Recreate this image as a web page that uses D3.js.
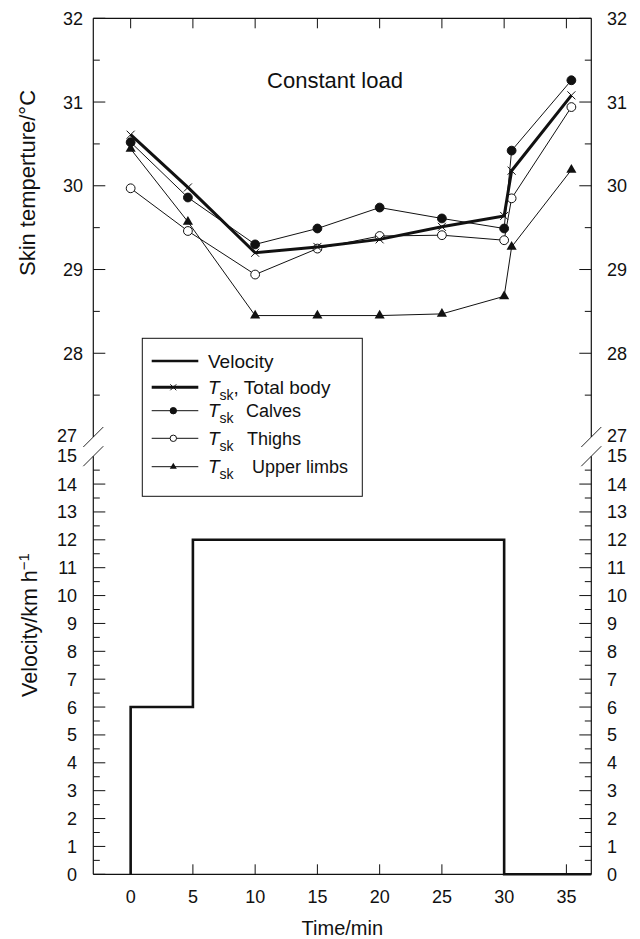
<!DOCTYPE html>
<html>
<head>
<meta charset="utf-8">
<script src="https://cdn.jsdelivr.net/npm/d3@7"></script>
<style>
  body { margin: 0; background: #fff; }
  svg text { font-family: "Liberation Sans", Arial, sans-serif; fill: #111; }
</style>
</head>
<body>
<div id="chart"></div>
<script>
// sampling times (min) of skin temperature
var times = [0, 4.6, 10, 15, 20, 25, 30, 30.6, 35.4];
var totalBody = [30.61, 29.98, 29.20, 29.27, 29.36, 29.51, 29.64, 30.18, 31.08];
var calves = [30.52, 29.86, 29.30, 29.49, 29.74, 29.61, 29.49, 30.42, 31.26];
var thighs = [29.97, 29.46, 28.94, 29.25, 29.40, 29.41, 29.35, 29.85, 30.94];
var upperLimbs = [30.44, 29.57, 28.45, 28.45, 28.45, 28.47, 28.68, 29.27, 30.19];

// treadmill velocity (step profile)
var velTimes = [0, 0, 5, 5, 30, 30, 37];
var velValues = [0, 6, 6, 12, 12, 0, 0];

var xTicks = [0, 5, 10, 15, 20, 25, 30, 35];
var tempTicks = [28, 29, 30, 31, 32];
var tempMinor = [27.5, 28.5, 29.5, 30.5, 31.5];
var velTicks = [0, 1, 2, 3, 4, 5, 6, 7, 8, 9, 10, 11, 12, 13, 14];
var velMinor = [0.5, 1.5, 2.5, 3.5, 4.5, 5.5, 6.5, 7.5, 8.5, 9.5, 10.5, 11.5, 12.5, 13.5, 14.5];

document.addEventListener('DOMContentLoaded', function () {
    draw();

    function draw() {
        var W = 640, H = 939;
        var left = 93.3, right = 591.3, top = 18.3, bottom = 874.3;
        var breakTop = 437, breakBottom = 456.2;
        var ink = "#111";

        var svg = d3.select("#chart").append("svg")
            .attr("width", W)
            .attr("height", H);

        var x = d3.scaleLinear().domain([-3, 37]).range([left, right]);
        var yT = d3.scaleLinear().domain([27, 32]).range([breakTop, top]);
        var yV = d3.scaleLinear().domain([0, 15]).range([bottom, breakBottom]);

        // frame: top and bottom borders
        svg.append("line").attr("x1", left).attr("x2", right).attr("y1", top).attr("y2", top)
            .attr("stroke", ink).attr("stroke-width", 1.2);
        svg.append("line").attr("x1", left).attr("x2", right).attr("y1", bottom).attr("y2", bottom)
            .attr("stroke", ink).attr("stroke-width", 1.2);

        // side axes with break
        [left, right].forEach(function (ax) {
            svg.append("line").attr("x1", ax).attr("x2", ax).attr("y1", top).attr("y2", yT(27))
                .attr("stroke", ink).attr("stroke-width", 1.2);
            svg.append("line").attr("x1", ax).attr("x2", ax).attr("y1", yV(15)).attr("y2", bottom)
                .attr("stroke", ink).attr("stroke-width", 1.2);
            [yT(27), yV(15)].forEach(function (cy) {
                svg.append("line")
                    .attr("x1", ax - 10).attr("y1", cy + 10)
                    .attr("x2", ax + 10).attr("y2", cy - 10)
                    .attr("stroke", ink).attr("stroke-width", 0.9);
            });
        });

        // x ticks on top and bottom, pointing inward
        xTicks.forEach(function (t) {
            svg.append("line").attr("x1", x(t)).attr("x2", x(t)).attr("y1", top).attr("y2", top + 10)
                .attr("stroke", ink).attr("stroke-width", 1);
            svg.append("line").attr("x1", x(t)).attr("x2", x(t)).attr("y1", bottom).attr("y2", bottom - 10)
                .attr("stroke", ink).attr("stroke-width", 1);
            svg.append("text").attr("x", x(t)).attr("y", 903)
                .attr("text-anchor", "middle").style("font-size", "18px").text(t);
        });

        function yTicks(scale, major, minor, lx, rx) {
            major.forEach(function (v) {
                var yy = scale(v);
                svg.append("line").attr("x1", left).attr("x2", left + 12).attr("y1", yy).attr("y2", yy)
                    .attr("stroke", ink).attr("stroke-width", 1);
                svg.append("line").attr("x1", right).attr("x2", right - 12).attr("y1", yy).attr("y2", yy)
                    .attr("stroke", ink).attr("stroke-width", 1);
                svg.append("text").attr("x", lx).attr("y", yy + 6.5)
                    .attr("text-anchor", "end").style("font-size", "18px").text(v);
                svg.append("text").attr("x", rx).attr("y", yy + 6.5)
                    .attr("text-anchor", "start").style("font-size", "18px").text(v);
            });
            minor.forEach(function (v) {
                var yy = scale(v);
                svg.append("line").attr("x1", left).attr("x2", left + 6.5).attr("y1", yy).attr("y2", yy)
                    .attr("stroke", ink).attr("stroke-width", 1);
                svg.append("line").attr("x1", right).attr("x2", right - 6.5).attr("y1", yy).attr("y2", yy)
                    .attr("stroke", ink).attr("stroke-width", 1);
            });
        }
        yTicks(yT, tempTicks, tempMinor, 83, 607);
        yTicks(yV, velTicks, velMinor, 77, 607);

        // break labels
        svg.append("text").attr("x", 77).attr("y", yT(27) + 5).attr("text-anchor", "end")
            .style("font-size", "18px").text("27");
        svg.append("text").attr("x", 77).attr("y", yV(15) + 6).attr("text-anchor", "end")
            .style("font-size", "18px").text("15");
        svg.append("text").attr("x", 607).attr("y", yT(27) + 5).attr("text-anchor", "start")
            .style("font-size", "18px").text("27");
        svg.append("text").attr("x", 607).attr("y", yV(15) + 6).attr("text-anchor", "start")
            .style("font-size", "18px").text("15");

        // axis titles
        svg.append("text").attr("transform", "translate(35,183) rotate(-90)")
            .attr("text-anchor", "middle").style("font-size", "22px").text("Skin temperture/°C");
        var vt = svg.append("text").attr("transform", "translate(37,625) rotate(-90)")
            .attr("text-anchor", "middle").style("font-size", "21.5px");
        vt.append("tspan").text("Velocity/km h");
        vt.append("tspan").attr("dy", -8).style("font-size", "15px").text("\u22121");
        svg.append("text").attr("x", (left + right) / 2).attr("y", 935)
            .attr("text-anchor", "middle").style("font-size", "20px").text("Time/min");

        svg.append("text").attr("x", 335).attr("y", 88)
            .attr("text-anchor", "middle").style("font-size", "22px").text("Constant load");

        // velocity step line
        var velLine = d3.line().x(function (d) { return x(d[0]); }).y(function (d) { return yV(d[1]); });
        svg.append("path")
            .attr("d", velLine(d3.zip(velTimes, velValues)))
            .attr("fill", "none").attr("stroke", ink).attr("stroke-width", 2.6);

        var tLine = d3.line().x(function (d) { return x(d[0]); }).y(function (d) { return yT(d[1]); });

        function marker(g, type, cx, cy, s) {
            if (type === "circle" || type === "open") {
                g.append("circle").attr("cx", cx).attr("cy", cy).attr("r", s)
                    .attr("fill", type === "circle" ? ink : "#fff")
                    .attr("stroke", ink).attr("stroke-width", 1);
            } else if (type === "tri") {
                g.append("path").attr("d", d3.symbol(d3.symbolTriangle, s * s * 2.1)())
                    .attr("transform", "translate(" + cx + "," + cy + ")")
                    .attr("fill", ink);
            } else if (type === "x") {
                g.append("path")
                    .attr("d", "M" + (cx - s) + "," + (cy - s) + "L" + (cx + s) + "," + (cy + s) +
                        "M" + (cx - s) + "," + (cy + s) + "L" + (cx + s) + "," + (cy - s))
                    .attr("stroke", ink).attr("stroke-width", 1);
            }
        }

        var series = [
            { vals: upperLimbs, type: "tri", width: 1, size: 4.6 },
            { vals: thighs, type: "open", width: 1, size: 4.4 },
            { vals: calves, type: "circle", width: 1, size: 4.4 },
            { vals: totalBody, type: "x", width: 3, size: 4 }
        ];
        series.forEach(function (s) {
            var pts = d3.zip(times, s.vals);
            svg.append("path").attr("d", tLine(pts))
                .attr("fill", "none").attr("stroke", ink).attr("stroke-width", s.width);
            var g = svg.append("g");
            pts.forEach(function (p) { marker(g, s.type, x(p[0]), yT(p[1]), s.size); });
        });

        // legend
        var lg = svg.append("g");
        lg.append("rect").attr("x", 142.3).attr("y", 338.3).attr("width", 220).attr("height", 158)
            .attr("fill", "#fff").attr("stroke", ink).attr("stroke-width", 1);
        var rows = [
            { y: 361, type: null, w: 2.4 },
            { y: 387.3, type: "x", w: 3 },
            { y: 410.7, type: "circle", w: 1 },
            { y: 438.3, type: "open", w: 1 },
            { y: 466.7, type: "tri", w: 1 }
        ];
        rows.forEach(function (r) {
            lg.append("line").attr("x1", 151.7).attr("x2", 198.3).attr("y1", r.y).attr("y2", r.y)
                .attr("stroke", ink).attr("stroke-width", r.w);
            if (r.type) marker(lg, r.type, 173.3, r.y, r.type === "x" ? 3 : 3.2);
        });
        lg.append("text").attr("x", 208).attr("y", 368).style("font-size", "19px").text("Velocity");
        function tsk(yy) {
            var t = lg.append("text").attr("x", 208).attr("y", yy).style("font-size", "19px");
            t.append("tspan").style("font-style", "italic").text("T");
            t.append("tspan").attr("dy", 6).style("font-size", "14px").text("sk");
            return t;
        }
        var t1 = tsk(394);
        t1.append("tspan").attr("dy", -6).style("font-size", "19px").text(", Total body");
        tsk(417);
        lg.append("text").attr("x", 246).attr("y", 417).style("font-size", "18px").text("Calves");
        tsk(445);
        lg.append("text").attr("x", 247).attr("y", 445).style("font-size", "18px").text("Thighs");
        tsk(473);
        lg.append("text").attr("x", 252).attr("y", 473).style("font-size", "18px").text("Upper limbs");
    }
});
</script>
</body>
</html>
